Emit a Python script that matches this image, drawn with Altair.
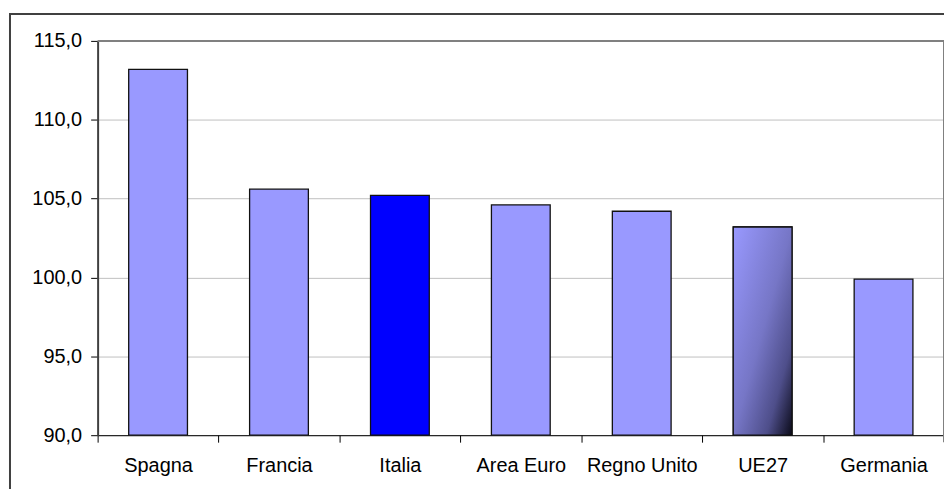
import altair as alt
import pandas as pd

categories = ["Spagna", "Francia", "Italia", "Area Euro", "Regno Unito", "UE27", "Germania"]
values = [113.2, 105.6, 105.2, 104.6, 104.2, 103.2, 99.9]
fills = ["#9999ff", "#9999ff", "#0000ff", "#9999ff", "#9999ff", "#9999ff", "#9999ff"]
y_ticks = [90, 95, 100, 105, 110, 115]
y_min, y_max = 90, 115

df = pd.DataFrame({"paese": categories, "valore": values, "colore": fills})

W, H = 850, 396
FONT = "Liberation Sans"

x_enc = alt.X(
    "paese:N",
    sort=categories,
    scale=alt.Scale(paddingInner=0, paddingOuter=0),
    axis=alt.Axis(
        title=None, labelAngle=0, tickBand="extent", tickSize=7, tickColor="black",
        tickWidth=1, domainColor="black", domainWidth=1, grid=False, labelPadding=13,
        labelFont=FONT, labelFontSize=20, labelColor="black",
    ),
)
y_enc = alt.Y(
    "valore:Q",
    scale=alt.Scale(domain=[y_min, y_max], nice=False, zero=False),
    axis=alt.Axis(
        title=None, values=y_ticks,
        labelExpr="replace(format(datum.value, '.1f'), '.', ',')",
        tickSize=7, tickColor="black", tickWidth=1,
        domainColor="#404040", domainWidth=2,
        grid=True, gridColor="#c0c0c0", gridWidth=1,
        labelFont=FONT, labelFontSize=20, labelColor="black", labelPadding=9,
    ),
)

bars = alt.Chart(df).mark_bar(
    stroke="#111111", strokeWidth=1.3, width=alt.RelativeBandSize(0.486)
).encode(
    x=x_enc, y=y_enc, y2=alt.datum(y_min), fill=alt.Fill("colore:N", scale=None)
)

gradient = alt.Gradient(
    gradient="linear",
    stops=[
        alt.GradientStop(color="#9999ff", offset=0),
        alt.GradientStop(color="#7676c6", offset=0.5),
        alt.GradientStop(color="#4e4e8a", offset=0.78),
        alt.GradientStop(color="#0a0a18", offset=1),
    ],
    x1=0, y1=0, x2=1, y2=1,
)

ue27 = alt.Chart(df).transform_filter(alt.datum.paese == "UE27").mark_bar(
    fill=gradient, stroke="#111111", strokeWidth=1.3, width=alt.RelativeBandSize(0.486)
).encode(
    x=alt.X("paese:N", sort=categories), y=alt.Y("valore:Q"), y2=alt.datum(y_min)
)

blank = alt.Data(values=[{}])
outer = alt.Chart(blank).mark_rect(fillOpacity=0, stroke="#404040", strokeWidth=2).encode(
    x=alt.value(-88), x2=alt.value(1000), y=alt.value(-27), y2=alt.value(520)
)
top_rule = alt.Chart(blank).mark_rule(color="#808080", strokeWidth=2).encode(
    x=alt.value(0), x2=alt.value(W), y=alt.value(0)
)
right_rule = alt.Chart(blank).mark_rule(color="#808080", strokeWidth=2).encode(
    x=alt.value(W), y=alt.value(0), y2=alt.value(H + 7)
)

chart = alt.layer(outer, bars, ue27, top_rule, right_rule).properties(
    width=W, height=H,
    padding={"left": 90, "top": 32, "right": 0, "bottom": 53},
    autosize="none",
    background="white",
).configure_view(stroke=None)

chart.save("out.html", embed_options={"renderer": "svg", "actions": False})
